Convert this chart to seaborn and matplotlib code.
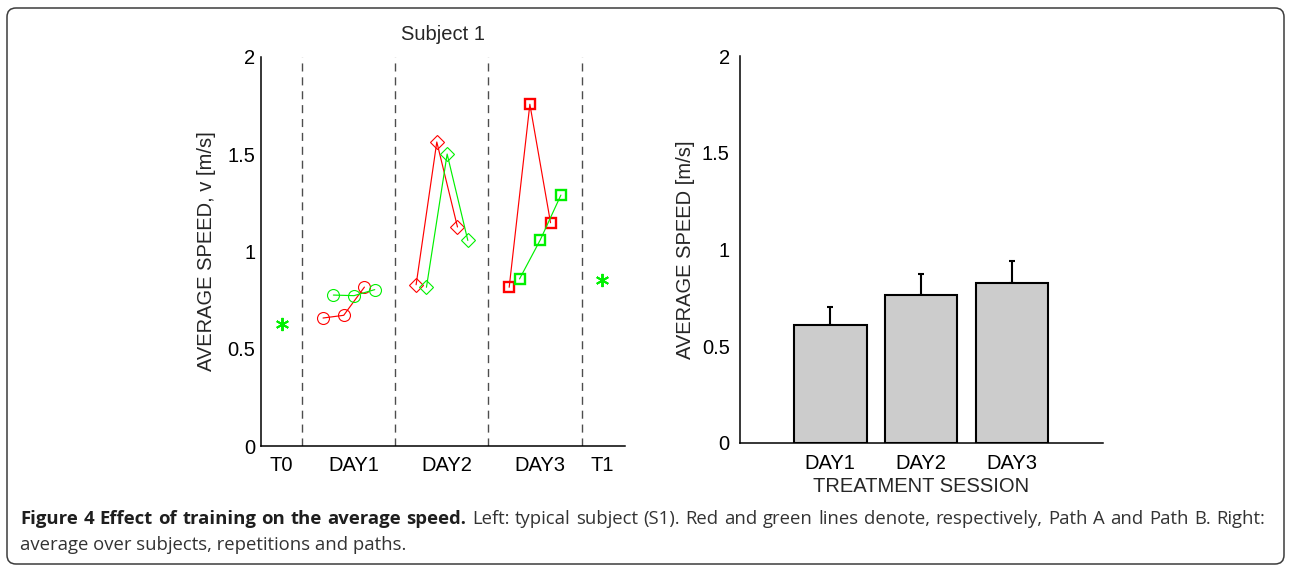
import numpy as np
import pandas as pd
import seaborn as sns
import matplotlib
matplotlib.use("Agg")
import matplotlib.pyplot as plt
from matplotlib.patches import FancyBboxPatch
from matplotlib.transforms import IdentityTransform

# ---------------- data ----------------
t0_value = 0.626
t1_value = 0.855
day1_red = [0.658, 0.672, 0.817]
day1_green = [0.776, 0.773, 0.804]
day2_red = [0.829, 1.563, 1.126]
day2_green = [0.816, 1.501, 1.057]
day3_red = [0.816, 1.757, 1.148]
day3_green = [0.859, 1.059, 1.290]

sessions = ["DAY1", "DAY2", "DAY3"]
session_means = [0.609, 0.764, 0.826]
session_err = [0.094, 0.110, 0.112]

left_tick_labels = ["T0", "DAY1", "DAY2", "DAY3", "T1"]

caption_bold = "Figure 4 Effect of training on the average speed."
caption_rest1 = "Left: typical subject (S1). Red and green lines denote, respectively, Path A and Path B. Right:"
caption_line2 = "average over subjects, repetitions and paths."

# ---------------- layout ----------------
W, H = 1289, 566
DPI = 100
sns.set_style("white")
plt.rcParams["font.family"] = ["Liberation Sans", "DejaVu Sans"]
plt.rcParams["axes.linewidth"] = 1.1
FS = 14.5

fig = plt.figure(figsize=(W / DPI, H / DPI), dpi=DPI)

def px_axes(l, t, r, b):
    return fig.add_axes([l / W, 1 - b / H, (r - l) / W, (b - t) / H])

ax1 = px_axes(261, 57, 625, 446)
ax2 = px_axes(739.5, 56, 1102.7, 443)

RED = "#ff0000"
GREEN = "#00f000"

# trial positions (session blocks of 6 interleaved trials)
day_starts = [4, 13, 22]
red_series = [day1_red, day2_red, day3_red]
green_series = [day1_green, day2_green, day3_green]
markers = ["o", "D", "s"]
msizes = [8.6, 7.0, 7.4]
mews = [0.8, 0.8, 1.7]

for start, r, g, m, ms, mew in zip(day_starts, red_series, green_series, markers, msizes, mews):
    xr = [start + 2 * i for i in range(len(r))]
    xg = [start + 1 + 2 * i for i in range(len(g))]
    for xs, ys, col in ((xr, r, RED), (xg, g, GREEN)):
        sns.lineplot(x=xs, y=ys, ax=ax1, color=col, linewidth=0.85, marker=m,
                     markersize=ms, markerfacecolor="none", markeredgecolor=col,
                     markeredgewidth=mew, zorder=3)

for xv, yv in ((0, t0_value), (31, t1_value)):
    sns.lineplot(x=[xv], y=[yv], ax=ax1, color=GREEN, linestyle="", marker=(6, 2, 0),
                 markersize=9.5, markeredgecolor=GREEN, markeredgewidth=1.4, zorder=3)

for xv in (2, 11, 20, 29):
    ax1.axvline(xv, color="0.3", linewidth=1.0, linestyle=(0, (5.8, 4.2)), zorder=1)

ax1.set_xlim(-2, 33.2)
ax1.set_ylim(0, 2)
ax1.set_yticks([0, 0.5, 1, 1.5, 2])
ax1.set_yticklabels(["0", "0.5", "1", "1.5", "2"])
data_ticks = [0] + [s + k for s in day_starts for k in range(6)] + [31]
label_pos = [0, 7, 16, 25, 31]
label_at = dict(zip(label_pos, left_tick_labels))
ax1.set_xticks(data_ticks)
ax1.set_xticklabels([label_at.get(t, "") for t in data_ticks])
ax1.tick_params(axis="both", direction="in", length=3.5, width=1.0, labelsize=FS, colors="black")
ax1.tick_params(axis="x", pad=7)
ax1.tick_params(axis="y", pad=4)
ax1.set_ylabel("AVERAGE SPEED, v [m/s]", fontsize=FS, labelpad=8)
ax1.set_title("Subject 1", fontsize=FS, pad=12)
for s in ("top", "right"):
    ax1.spines[s].set_visible(False)
for s in ("left", "bottom"):
    ax1.spines[s].set_color("black")

# ---------------- right: bar chart ----------------
bar_df = pd.DataFrame({"session": sessions, "speed": session_means})
sns.barplot(data=bar_df, x="session", y="speed", ax=ax2, color="#cccccc", saturation=1,
            edgecolor="black", linewidth=1.5, width=0.8, errorbar=None, zorder=2)
ax2.errorbar(np.arange(len(sessions)), session_means,
             yerr=[np.zeros(len(sessions)), session_err], fmt="none", ecolor="black",
             elinewidth=1.5, capsize=2.2, capthick=1.5, zorder=1)
ax2.set_xlim(-1, 3)
ax2.set_ylim(0, 2)
ax2.set_yticks([0, 0.5, 1, 1.5, 2])
ax2.set_yticklabels(["0", "0.5", "1", "1.5", "2"])
ax2.tick_params(axis="y", direction="in", length=3.5, width=1.0, labelsize=FS, pad=7, colors="black")
ax2.tick_params(axis="x", length=0, labelsize=FS, pad=8, colors="black")
ax2.set_xlabel("TREATMENT SESSION", fontsize=FS, labelpad=3)
ax2.set_ylabel("AVERAGE SPEED [m/s]", fontsize=FS, labelpad=5)
for s in ("top", "right"):
    ax2.spines[s].set_visible(False)
for s in ("left", "bottom"):
    ax2.spines[s].set_color("black")

# ---------------- frame and caption ----------------
frame = FancyBboxPatch((7, 2), 1277, 556, boxstyle="round,pad=0,rounding_size=9",
                       transform=IdentityTransform(), facecolor="none",
                       edgecolor="#3c3c3c", linewidth=1.1)
fig.add_artist(frame)
frame.set_transform(IdentityTransform())

CAP_FS = 13.3
cap_color = "#333333"
cap_font = ["Open Sans", "DejaVu Sans"]
fig.canvas.draw()
renderer = fig.canvas.get_renderer()

# line 1: justified between x_left and x_right
tokens = [(w, "bold") for w in caption_bold.split()] + [(w, "normal") for w in caption_rest1.split()]
base1 = 1 - 524 / H
items = []
for word, wt in tokens:
    t = fig.text(0, base1, word, fontsize=CAP_FS, fontweight=wt, family=cap_font,
                 color="#1e1e1e" if wt == "bold" else cap_color, va="baseline")
    items.append((t, t.get_window_extent(renderer).width))
x_left, x_right = 20.0, 1265.0
total = sum(w for _, w in items)
gap = (x_right - x_left - total) / (len(items) - 1)
x = x_left
for t, w in items:
    t.set_x(x / W)
    x += w + gap

fig.text(x_left / W, 1 - 550 / H, caption_line2,
         fontsize=CAP_FS, family=cap_font, color=cap_color, va="baseline")

fig.savefig("out.png", dpi=DPI)
